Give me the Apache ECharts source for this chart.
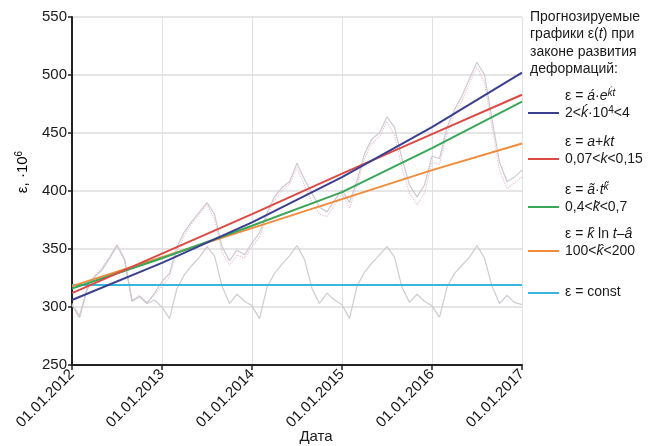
<!DOCTYPE html>
<html>
<head>
<meta charset="utf-8">
<script src="https://cdn.jsdelivr.net/npm/echarts@6/dist/echarts.min.js"></script>
<style>
html,body{margin:0;padding:0;background:#fff;}
#c{width:665px;height:446px;}
</style>
</head>
<body>
<div id="c"></div>
<script>
// ---- data ----
const yearTicks = [2012, 2013, 2014, 2015, 2016, 2017];
const startYear = 2012;
// monthly observations, Jan 2012 ... Jan 2017 (61 points)
const seasonalConst = [
  302, 291, 315, 326, 332, 342, 353, 341, 305, 309, 303, 306,
  300, 290, 316, 328, 336, 343, 352, 344, 318, 303, 311, 305,
  301, 290, 317, 329, 337, 344, 353, 341, 316, 303, 312, 306,
  302, 290, 318, 330, 338, 345, 352, 343, 317, 304, 311, 305,
  301, 291, 317, 329, 336, 343, 353, 342, 318, 303, 310, 304,
  302
];
const risingGray = [
  302, 291, 315, 326, 332, 342, 353, 341, 305, 309, 303, 312,
  322, 329, 352, 365, 374, 382, 390, 380, 352, 340, 349, 345,
  355, 364, 381, 395, 403, 408, 424, 410, 398, 386, 382, 392,
  401, 390, 409, 432, 445, 450, 464, 455, 428, 405, 395, 405,
  430, 428, 455, 470, 482, 497, 511, 500, 462, 425, 408, 412,
  418
];
const risingPink = [
  303, 293, 316, 327, 334, 343, 354, 342, 306, 310, 304, 310,
  318, 326, 348, 362, 372, 380, 388, 376, 347, 336, 345, 342,
  352, 360, 378, 392, 400, 406, 420, 405, 390, 380, 378, 388,
  398, 385, 405, 428, 441, 447, 460, 448, 420, 398, 388, 398,
  425, 423, 450, 466, 478, 493, 507, 493, 455, 418, 402, 407,
  412
];
// fitted forecast curves at each 1 January
const fitExp = [306, 338, 373, 412, 455, 502];
const fitLin = [312, 346, 380, 415, 449, 483];
const fitPow = [316, 342, 370, 399, 437, 477];
const fitLog = [318, 343, 368, 393, 418, 441];
const constLevel = 319;
const yTicks = [250, 300, 350, 400, 450, 500, 550];

// ---- build ----
const monthly = arr => arr.map((v, i) => [startYear + i / 12, v]);
const yearly = arr => arr.map((v, i) => [yearTicks[i], v]);

const FONT = '"Liberation Sans", "DejaVu Sans", Arial, sans-serif';
const COL = {
  exp: '#3b3f8f', lin: '#dc4a43', pow: '#3aa657', log: '#f08c3c', cst: '#38b6e2'
};

const chart = echarts.init(document.getElementById('c'), null, {renderer: 'canvas'});

function lineSeries(name, data, color, width, type, z) {
  return {
    name, type: 'line', data, symbol: 'none', smooth: false, z: z || 2,
    lineStyle: {color, width, type: type || 'solid'}, silent: true, animation: false
  };
}

const rich = {
  b: {fontFamily: FONT, fontSize: 14, color: '#1a1a1a', lineHeight: 17},
  i: {fontFamily: FONT, fontSize: 14, fontStyle: 'italic', color: '#1a1a1a', lineHeight: 17},
  sup: {fontFamily: FONT, fontSize: 10, fontStyle: 'italic', color: '#1a1a1a', lineHeight: 10, verticalAlign: 'top'},
  supn: {fontFamily: FONT, fontSize: 10, color: '#1a1a1a', lineHeight: 10, verticalAlign: 'top'},
  bl: {fontFamily: FONT, fontSize: 15, color: '#1a1a1a', lineHeight: 18},
  supl: {fontFamily: FONT, fontSize: 10, color: '#1a1a1a', lineHeight: 10, verticalAlign: 'top'}
};

const legendItems = [
  {color: COL.exp, y: 96, l1: '{b|ε = }{i|á}{b|·}{i|e}{sup|ḱt}', l2: '{b|2<}{i|ḱ}{b|·10}{supn|4}{b|<4}'},
  {color: COL.lin, y: 142, l1: '{b|ε = }{i|a}{b|+}{i|kt}', l2: '{b|0,07<}{i|k}{b|<0,15}'},
  {color: COL.pow, y: 190, l1: '{b|ε = }{i|ã}{b|·}{i|t}{sup|k̃}', l2: '{b|0,4<}{i|k̃}{b|<0,7}'},
  {color: COL.log, y: 234, l1: '{b|ε = }{i|k̂}{b| ln }{i|t}{b|–}{i|â}', l2: '{b|100<}{i|k̂}{b|<200}'},
  {color: COL.cst, y: 292, l1: '{b|ε = const}', l2: null}
];

const graphic = [];
const titleLines = ['Прогнозируемые', 'графики ε(t) при', 'законе развития', 'деформаций:'];
titleLines.forEach((t, k) => {
  graphic.push({
    type: 'text', left: 530, top: 10 + k * 17.5, silent: true,
    style: t === 'графики ε(t) при'
      ? {text: '{b|графики ε(}{i|t}{b|) при}', rich, fill: '#1a1a1a'}
      : {text: t, font: '14px ' + FONT, fill: '#1a1a1a'}
  });
});
legendItems.forEach(it => {
  const sampleY = it.l2 ? it.y + 17 : it.y + 1;
  graphic.push({
    type: 'line', silent: true,
    shape: {x1: 528, y1: sampleY, x2: 559, y2: sampleY},
    style: {stroke: it.color, lineWidth: 2}
  });
  const txt = it.l2 ? it.l1 + '\n' + it.l2 : it.l1;
  graphic.push({
    type: 'text', silent: true, x: 565, y: it.y - 8,
    style: {text: txt, rich, fill: '#1a1a1a', font: '14px ' + FONT}
  });
});
// y axis title
graphic.push({
  type: 'text', silent: true, x: 23, y: 172, rotation: Math.PI / 2,
  style: {text: '{bl|ε, ·10}{supl|6}', rich, textAlign: 'center', textVerticalAlign: 'middle'}
});
// x axis title
graphic.push({
  type: 'text', silent: true, x: 316, y: 437,
  style: {text: 'Дата', font: '15px ' + FONT, fill: '#1a1a1a', textAlign: 'center', textVerticalAlign: 'middle'}
});

const option = {
  backgroundColor: '#ffffff',
  animation: false,
  grid: {left: 72, right: 143, top: 17, bottom: 81, containLabel: false},
  xAxis: {
    type: 'value', min: 2012, max: 2017, interval: 1,
    axisLine: {show: true, onZero: false, lineStyle: {color: '#222', width: 2}},
    axisTick: {show: true, length: 5, lineStyle: {color: '#222', width: 1.5}},
    axisLabel: {
      rotate: 45, margin: 7, fontFamily: FONT, fontSize: 15, color: '#1a1a1a',
      formatter: v => '01.01.' + Math.round(v)
    },
    splitLine: {show: true, lineStyle: {color: '#e0e0e0', width: 1}}
  },
  yAxis: {
    type: 'value', min: 250, max: 550, interval: 50,
    axisLine: {show: true, lineStyle: {color: '#222', width: 2}},
    axisTick: {show: true, length: 4, lineStyle: {color: '#222', width: 1.5}},
    axisLabel: {margin: 5, fontFamily: FONT, fontSize: 15, color: '#1a1a1a',
      formatter: v => yTicks.includes(v) ? String(v) : ''},
    splitLine: {show: true, lineStyle: {color: '#dcdcdc', width: 1.5}}
  },
  series: [
    lineSeries('seasonal', monthly(seasonalConst), '#cdcbd0', 1.2, 'solid', 1),
    lineSeries('risingPink', monthly(risingPink), '#edc0d4', 1.2, 'dotted', 1),
    lineSeries('risingGray', monthly(risingGray), '#cdc9d2', 1.2, 'solid', 1),
    lineSeries('const', [[2012, constLevel], [2017, constLevel]], COL.cst, 2, 'solid', 3),
    lineSeries('log', yearly(fitLog), COL.log, 2, 'solid', 4),
    lineSeries('pow', yearly(fitPow), COL.pow, 2, 'solid', 5),
    lineSeries('lin', yearly(fitLin), COL.lin, 2, 'solid', 6),
    lineSeries('exp', yearly(fitExp), COL.exp, 2, 'solid', 7)
  ],
  graphic
};
chart.setOption(option);
</script>
</body>
</html>
